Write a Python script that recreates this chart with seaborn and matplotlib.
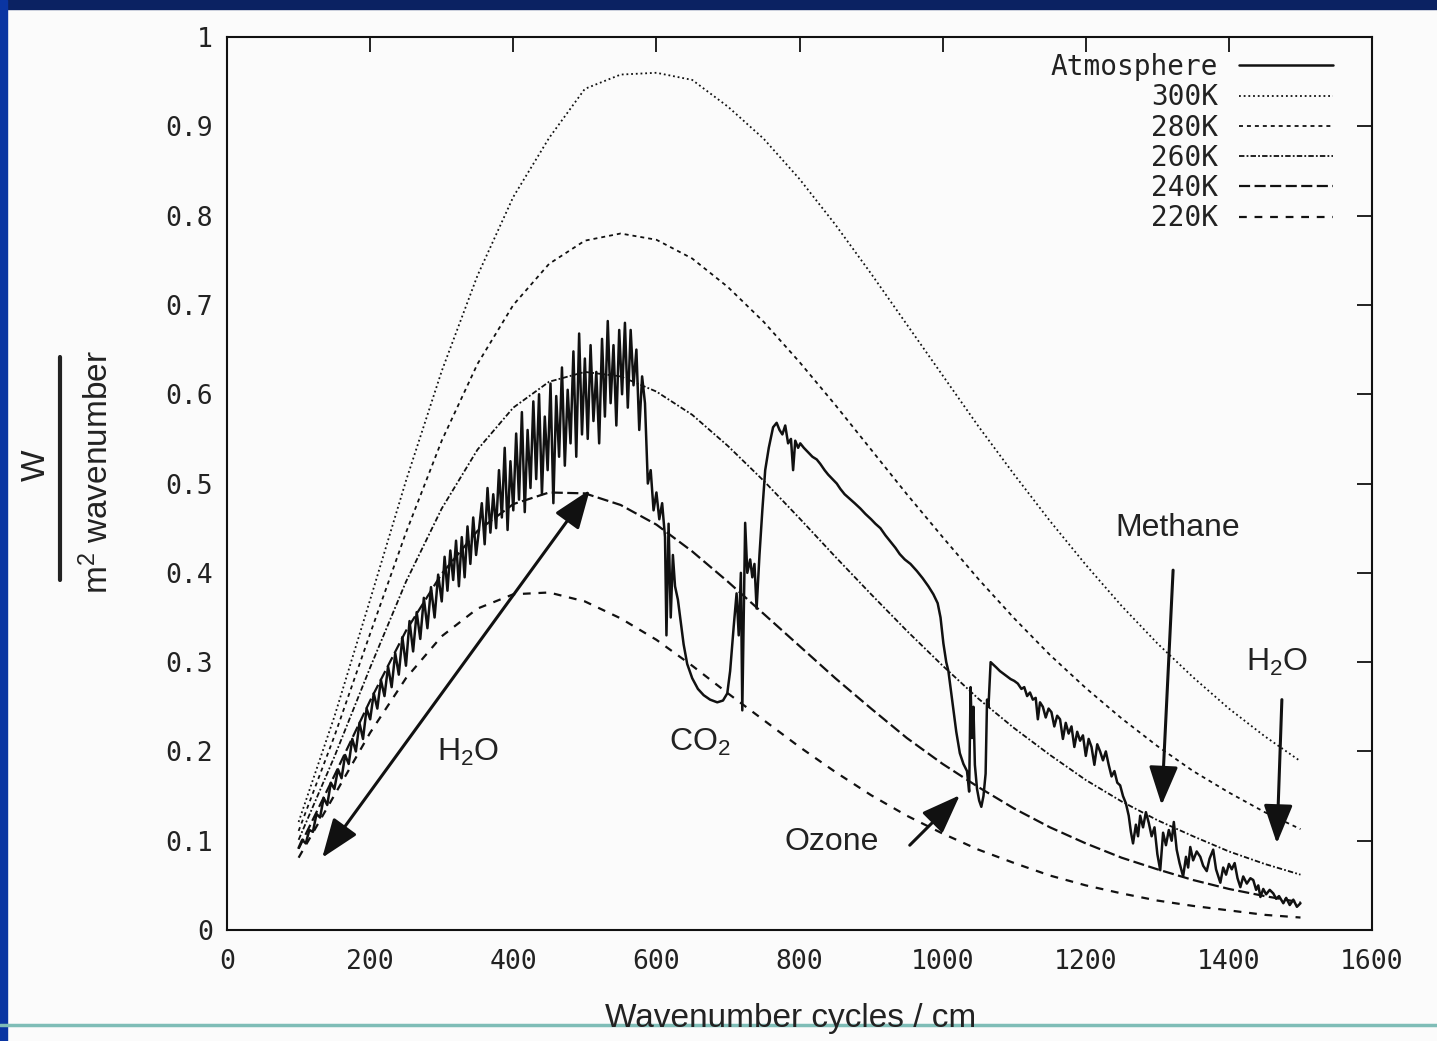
import matplotlib
matplotlib.use("Agg")
import matplotlib.pyplot as plt
from matplotlib.lines import Line2D
from matplotlib.patches import Rectangle
from matplotlib.font_manager import FontProperties
import seaborn as sns

# ---- data -------------------------------------------------------------
wavenumber = [100, 150, 200, 250, 300, 350, 400, 450, 500, 550, 600, 650,
              700, 750, 800, 850, 900, 950, 1000, 1050, 1100, 1150, 1200,
              1250, 1300, 1350, 1400, 1450, 1500]

bb_300 = [0.121, 0.239, 0.370, 0.503, 0.626, 0.733, 0.821, 0.887, 0.942,
          0.958, 0.960, 0.952, 0.922, 0.886, 0.841, 0.790, 0.735, 0.678,
          0.621, 0.564, 0.510, 0.458, 0.409, 0.363, 0.321, 0.283, 0.248,
          0.217, 0.189]
bb_280 = [0.111, 0.217, 0.332, 0.445, 0.548, 0.634, 0.700, 0.746, 0.772,
          0.780, 0.773, 0.752, 0.720, 0.681, 0.636, 0.588, 0.538, 0.488,
          0.440, 0.393, 0.349, 0.308, 0.271, 0.237, 0.206, 0.178, 0.154,
          0.132, 0.113]
bb_260 = [0.101, 0.194, 0.294, 0.390, 0.472, 0.538, 0.585, 0.614, 0.625,
          0.620, 0.603, 0.577, 0.542, 0.503, 0.461, 0.418, 0.376, 0.335,
          0.296, 0.259, 0.226, 0.196, 0.168, 0.144, 0.123, 0.105, 0.088,
          0.074, 0.062]
bb_240 = [0.091, 0.173, 0.257, 0.335, 0.399, 0.447, 0.477, 0.490, 0.489,
          0.476, 0.454, 0.424, 0.390, 0.354, 0.318, 0.282, 0.248, 0.215,
          0.186, 0.160, 0.136, 0.115, 0.097, 0.081, 0.068, 0.056, 0.046,
          0.038, 0.031]
bb_220 = [0.081, 0.151, 0.221, 0.282, 0.329, 0.360, 0.376, 0.378, 0.368,
          0.349, 0.325, 0.296, 0.265, 0.235, 0.205, 0.177, 0.151, 0.128,
          0.108, 0.090, 0.075, 0.061, 0.050, 0.041, 0.033, 0.027, 0.022,
          0.017, 0.014]

atm_wn = [
    100, 105, 110, 115, 120, 125, 130, 135, 140, 145, 150, 155, 160, 165,
    170, 175, 180, 185, 190, 195, 200, 205, 210, 215, 220, 225, 230, 235,
    240, 245, 250, 255, 260, 265, 270, 275, 280, 285, 290, 295, 300,
    304, 308, 312, 316, 320, 324, 328, 332, 336, 340, 344, 348, 352, 356,
    360, 364, 368, 372, 376, 380, 384, 388, 392, 396, 400, 404, 408, 412,
    416, 420, 424, 428, 432, 436, 440, 444, 448, 452, 456, 460, 464, 468,
    472, 476, 480, 484, 488, 492, 496, 500, 504, 508, 512, 516, 520, 524,
    528, 532, 536, 540, 544, 548, 552, 556, 560, 564, 568, 572, 576, 580,
    584, 588, 592, 596, 600, 604, 608, 612, 614, 617, 620, 623, 626, 630,
    634, 638, 643, 650, 658, 666, 675, 685, 693, 699, 703, 708, 712, 715,
    718, 720, 722, 724, 727, 731, 734, 737, 740, 744, 748, 752, 757, 763,
    768, 772, 776, 780, 784, 788, 791, 794, 798, 801, 806, 812, 818, 824,
    829, 835, 840, 846, 852, 857, 863, 870, 877, 885, 892, 900, 906, 913,
    920, 927, 934, 940, 947, 955, 964, 972, 980, 987, 993, 997, 1001, 1005,
    1008, 1012, 1015, 1019, 1024, 1029, 1034, 1037, 1039, 1041, 1043, 1045,
    1048, 1051, 1054, 1057, 1060, 1062, 1064, 1067, 1071, 1075, 1080, 1085,
    1090, 1095, 1100, 1105, 1110, 1114, 1118, 1122, 1126, 1130, 1133, 1136,
    1140, 1144, 1148, 1152, 1156, 1160, 1164, 1168, 1172, 1176, 1180, 1184,
    1188, 1192, 1196, 1200, 1204, 1208, 1212, 1216, 1220, 1224, 1228, 1232,
    1236, 1240, 1244, 1248, 1252, 1256, 1260, 1263, 1266, 1270, 1273, 1276,
    1280, 1284, 1288, 1292, 1296, 1300, 1304, 1308, 1312, 1316, 1320, 1323,
    1327, 1331, 1336, 1340, 1343, 1346, 1350, 1355, 1360, 1364, 1369, 1373,
    1378, 1382, 1388, 1392, 1396, 1400, 1404, 1408, 1412, 1416, 1420, 1425,
    1430, 1434, 1438, 1441, 1444, 1448, 1452, 1457, 1462, 1466, 1470, 1476,
    1480, 1485, 1490, 1495, 1500]
atm_val = [
    0.092, 0.101, 0.097, 0.112, 0.110, 0.130, 0.126, 0.148, 0.140, 0.165,
    0.158, 0.180, 0.170, 0.196, 0.186, 0.214, 0.200, 0.232, 0.214, 0.248,
    0.236, 0.265, 0.248, 0.280, 0.262, 0.295, 0.272, 0.310, 0.286, 0.328,
    0.296, 0.346, 0.312, 0.356, 0.326, 0.372, 0.338, 0.384, 0.350, 0.398,
    0.368,
    0.418, 0.380, 0.425, 0.392, 0.436, 0.385, 0.440, 0.395, 0.452, 0.410,
    0.462, 0.420, 0.448, 0.478, 0.432, 0.495, 0.445, 0.488, 0.450, 0.515,
    0.462, 0.540, 0.448, 0.525, 0.470, 0.556, 0.482, 0.580, 0.468, 0.560,
    0.495, 0.592, 0.505, 0.600, 0.488, 0.575, 0.515, 0.612, 0.478, 0.598,
    0.530, 0.630, 0.520, 0.605, 0.545, 0.648, 0.530, 0.668, 0.555, 0.640,
    0.550, 0.655, 0.570, 0.625, 0.545, 0.662, 0.575, 0.682, 0.590, 0.655,
    0.565, 0.672, 0.600, 0.680, 0.585, 0.672, 0.610, 0.650, 0.560, 0.620,
    0.590, 0.500, 0.515, 0.470, 0.490, 0.460, 0.478, 0.440, 0.330, 0.455,
    0.350, 0.420, 0.385, 0.370, 0.345, 0.320, 0.298, 0.282, 0.270, 0.263,
    0.258, 0.255, 0.257, 0.265, 0.290, 0.340, 0.377, 0.330, 0.400, 0.246,
    0.350, 0.456, 0.400, 0.415, 0.395, 0.410, 0.360, 0.420, 0.470, 0.515,
    0.540, 0.563, 0.568, 0.560, 0.555, 0.565, 0.545, 0.550, 0.515, 0.548,
    0.540, 0.545, 0.540, 0.535, 0.530, 0.527, 0.522, 0.515, 0.510, 0.505,
    0.500, 0.494, 0.488, 0.483, 0.478, 0.472, 0.466, 0.460, 0.455, 0.450,
    0.442, 0.435, 0.428, 0.421, 0.415, 0.410, 0.402, 0.394, 0.385, 0.376,
    0.366, 0.350, 0.321, 0.300, 0.290, 0.265, 0.246, 0.222, 0.198, 0.186,
    0.178, 0.155, 0.272, 0.215, 0.250, 0.185, 0.158, 0.145, 0.138, 0.150,
    0.175, 0.258, 0.250, 0.300, 0.297, 0.294, 0.290, 0.287, 0.284, 0.281,
    0.279, 0.276, 0.270, 0.272, 0.262, 0.266, 0.258, 0.260, 0.236, 0.255,
    0.250, 0.238, 0.248, 0.244, 0.228, 0.240, 0.236, 0.214, 0.232, 0.220,
    0.228, 0.205, 0.222, 0.212, 0.218, 0.195, 0.214, 0.205, 0.185, 0.208,
    0.200, 0.190, 0.200, 0.185, 0.172, 0.178, 0.165, 0.162, 0.150, 0.142,
    0.128, 0.110, 0.097, 0.118, 0.105, 0.128, 0.115, 0.132, 0.120, 0.105,
    0.115, 0.085, 0.067, 0.109, 0.095, 0.112, 0.100, 0.121, 0.090, 0.075,
    0.060, 0.082, 0.070, 0.093, 0.078, 0.088, 0.082, 0.072, 0.066, 0.080,
    0.090, 0.068, 0.053, 0.070, 0.062, 0.074, 0.068, 0.075, 0.058, 0.048,
    0.060, 0.052, 0.058, 0.056, 0.045, 0.050, 0.037, 0.046, 0.040, 0.045,
    0.041, 0.035, 0.038, 0.030, 0.036, 0.028, 0.034, 0.026, 0.030]

series_labels = ["Atmosphere", "300K", "280K", "260K", "240K", "220K"]
x_ticks = [0, 200, 400, 600, 800, 1000, 1200, 1400, 1600]
y_ticks = [0, 0.1, 0.2, 0.3, 0.4, 0.5, 0.6, 0.7, 0.8, 0.9, 1.0]
y_tick_labels = ["0", "0.1", "0.2", "0.3", "0.4", "0.5", "0.6", "0.7",
                 "0.8", "0.9", "1"]

# ---- style ------------------------------------------------------------
sns.set_theme(style="white")
plt.rcParams["font.family"] = ["Liberation Sans", "DejaVu Sans"]
plt.rcParams["mathtext.default"] = "regular"

INK = "#111111"
BG = "#fbfbfb"
MONO = "DejaVu Sans Mono"

fig = plt.figure(figsize=(14.37, 10.41), dpi=100, facecolor=BG)
ax = fig.add_axes([0.158, 0.1066, 0.7968, 0.8578])
ax.set_facecolor(BG)

# slide frame: dark band on top, blue band on the left, teal rule at bottom
fig.add_artist(Rectangle((0, 1 - 9 / 1041), 1, 9 / 1041,
                         transform=fig.transFigure, color="#0b2262", zorder=0))
fig.add_artist(Rectangle((0, 0), 7 / 1437, 1, transform=fig.transFigure,
                         color="#0a35a2", zorder=0))
fig.add_artist(Line2D([0, 1], [0.0154, 0.0154], transform=fig.transFigure,
                      color="#7fbdb7", lw=2.5, zorder=1))

# ---- blackbody reference curves -----------------------------------------
curves = {"300K": bb_300, "280K": bb_280, "260K": bb_260,
          "240K": bb_240, "220K": bb_220}
curve_style = {
    "300K": dict(linestyle=(0, (1.0, 1.6)), linewidth=1.3),
    "280K": dict(linestyle=(0, (2.2, 2.2)), linewidth=1.3),
    "260K": dict(linestyle=(0, (3.0, 1.2, 1.0, 1.2)), linewidth=1.3),
    "240K": dict(linestyle=(0, (5.0, 2.0)), linewidth=1.6),
    "220K": dict(linestyle=(0, (3.5, 3.5)), linewidth=1.6),
}
handles = {}
for lab in series_labels[1:]:
    sns.lineplot(x=wavenumber, y=curves[lab], ax=ax, color=INK,
                 estimator=None, sort=False, legend=False,
                 **curve_style[lab])
    handles[lab] = ax.get_lines()[-1]

# ---- measured atmospheric emission -------------------------------------
sns.lineplot(x=atm_wn, y=atm_val, ax=ax, color=INK, linewidth=1.8,
             estimator=None, sort=False, legend=False)
handles["Atmosphere"] = ax.get_lines()[-1]

# ---- axes ---------------------------------------------------------------
ax.set_xlim(0, 1600)
ax.set_ylim(0, 1)
ax.set_xticks(x_ticks)
ax.set_xticklabels([str(v) for v in x_ticks])
ax.set_yticks(y_ticks)
ax.set_yticklabels(y_tick_labels)
ax.tick_params(axis="both", which="major", direction="in", length=11,
               width=1.3, color=INK, top=True, right=True,
               labelsize=19, labelcolor="#222222", labelfontfamily=MONO)
ax.tick_params(axis="y", pad=10)
ax.tick_params(axis="x", pad=14)
for sp in ax.spines.values():
    sp.set_color(INK)
    sp.set_linewidth(1.5)
ax.set_xlabel("")
ax.set_ylabel("")

leg = ax.legend([handles[l] for l in series_labels], series_labels,
                loc="upper right", bbox_to_anchor=(0.966, 0.982),
                frameon=False, markerfirst=False,
                prop=FontProperties(family=MONO, size=20),
                handlelength=3.4, handletextpad=0.75, labelspacing=0.08,
                borderpad=0, borderaxespad=0)
for t in leg.get_texts():
    t.set_color("#222222")

# ---- axis titles ----------------------------------------------------------
fig.text(0.55, 0.022, "Wavenumber cycles / cm", ha="center", va="center",
         fontsize=24, color="#222222", zorder=5)
fig.text(0.0250, 0.5533, "W", rotation=90, ha="center", va="center",
         fontsize=24, color="#222222")
fig.add_artist(Line2D([0.0418, 0.0418], [0.4428, 0.657],
                      transform=fig.transFigure, color="#222222", lw=3))
fig.text(0.0682, 0.5466, r"$\mathregular{m^2}$ wavenumber", rotation=90,
         ha="center", va="center", fontsize=24, color="#222222")


# ---- band annotations ----------------------------------------------------
def arrow(tail, head, style="-|>"):
    ax.annotate("", xy=head, xytext=tail, xycoords="data",
                textcoords="data",
                arrowprops=dict(
                    arrowstyle=f"{style},head_length=1.2,head_width=0.45",
                    mutation_scale=20, lw=2.2, color=INK,
                    shrinkA=0, shrinkB=0))


arrow((133, 0.081), (507, 0.493), style="<|-|>")
arrow((954, 0.095), (1024, 0.151))
arrow((1322, 0.403), (1306, 0.140))
arrow((1474, 0.258), (1467, 0.097))

note_kw = dict(ha="center", va="center", fontsize=23, color="#222222")
ax.text(337, 0.199, r"$\mathregular{H_2O}$", **note_kw)
ax.text(661, 0.210, r"$\mathregular{CO_2}$", **note_kw)
ax.text(845, 0.099, "Ozone", **note_kw)
ax.text(1328, 0.450, "Methane", **note_kw)
ax.text(1467, 0.300, r"$\mathregular{H_2O}$", **note_kw)

fig.savefig("out.png", dpi=100, facecolor=BG)
